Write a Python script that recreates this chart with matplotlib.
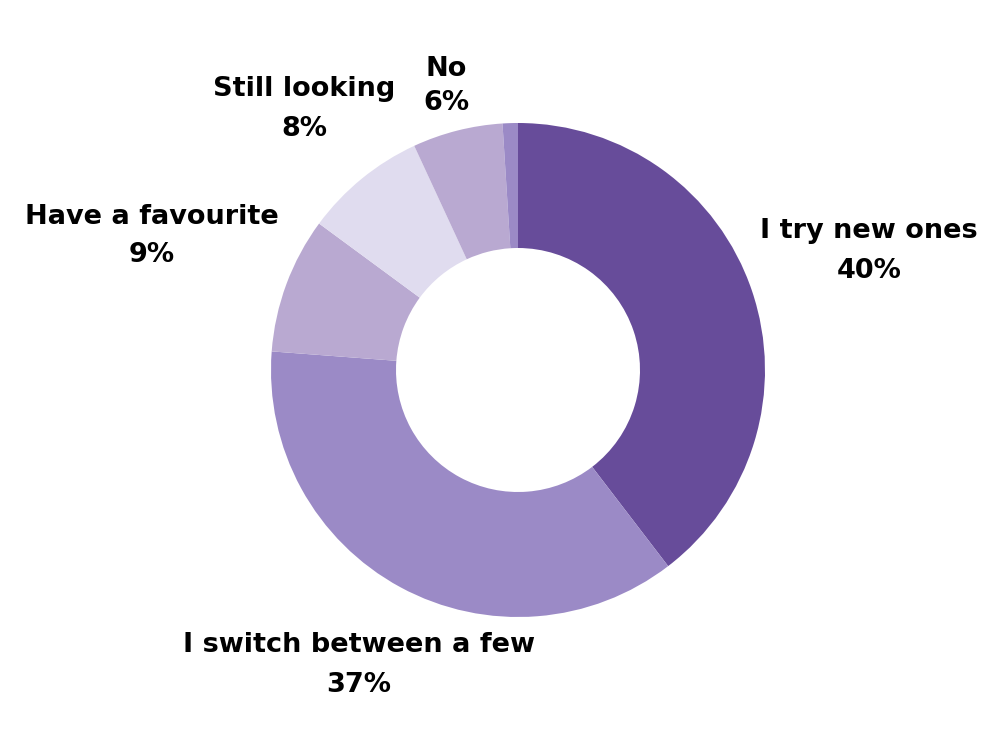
import matplotlib
matplotlib.use("Agg")
import matplotlib.pyplot as plt

# survey answers, clockwise from the top
labels = ["I try new ones", "I switch between a few", "Have a favourite",
          "Still looking", "No", ""]
values = [39.6, 36.6, 8.9, 8.0, 5.9, 1.0]
pct_text = ["40%", "37%", "9%", "8%", "6%", ""]
colors = ["#674C9A", "#9B8AC6", "#B9A9D1", "#E0DCEF", "#B9A9D1", "#9B8AC6"]

# centre of each label block (pixel coords of the 1000x750 canvas)
label_pos = [(869, 251), (359, 665), (152, 236), (304, 109), (446, 86), None]

fig = plt.figure(figsize=(10, 7.5), dpi=100)
ax = fig.add_axes([0, 0, 1, 1])

ax.pie(values, colors=colors, startangle=90, counterclock=False,
       center=(518, 380), radius=247, frame=True,
       wedgeprops=dict(width=125, linewidth=0))
ax.set_xlim(0, 1000)
ax.set_ylim(0, 750)
ax.set_aspect("equal")
ax.axis("off")

for lab, pct, pos in zip(labels, pct_text, label_pos):
    if pos is None:
        continue
    x, y = pos
    ls = 1.45 if lab == "No" else 1.65
    ax.text(x, 750 - y, lab + "\n" + pct, ha="center", va="center",
            fontsize=19.5, fontweight="bold", family="DejaVu Sans",
            linespacing=ls)

fig.savefig("out.png", dpi=100, facecolor="white")
